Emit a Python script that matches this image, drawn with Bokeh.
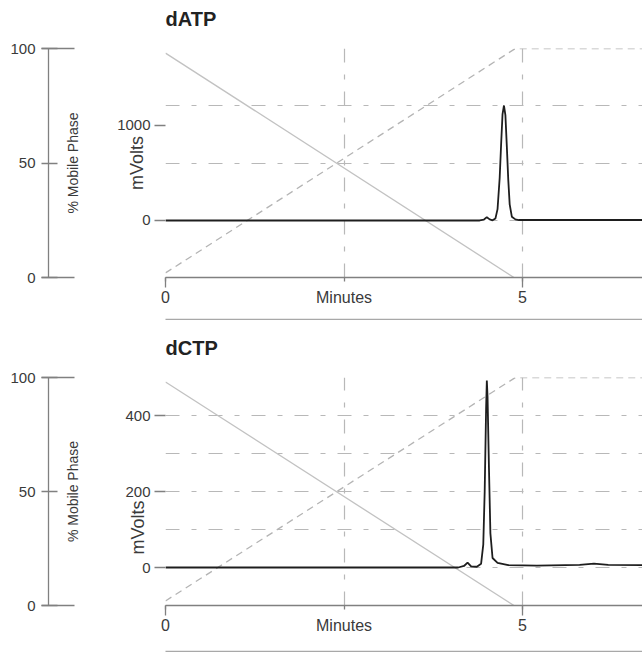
from bokeh.plotting import figure
from bokeh.models import (Range1d, LinearAxis, FixedTicker, Grid, Title,
                          NumeralTickFormatter)
from bokeh.layouts import column
from bokeh.embed import file_html
from bokeh.resources import INLINE

# ---------------- data ----------------
# gradient program (% mobile phase) shared by both runs
grad_time_A = [0.0, 4.88]
grad_pct_A = [98, 0]
grad_time_B = [0.0, 4.9, 10.0]
grad_pct_B = [2, 100, 100]

# dATP chromatogram (minutes, mV)
datp_time = [0.0, 4.40, 4.46, 4.50, 4.54, 4.58, 4.62, 4.65, 4.68, 4.70, 4.72,
             4.74, 4.76, 4.78, 4.80, 4.82, 4.85, 4.90, 4.95, 5.5, 6.0, 7.0]
datp_mv = [0, 0, 10, 35, 12, 2, 20, 120, 450, 800, 1120,
           1210, 1110, 780, 430, 170, 40, 12, 5, 5, 6, 5]

# dCTP chromatogram (minutes, mV)
dctp_time = [0.0, 4.10, 4.18, 4.23, 4.28, 4.36, 4.42, 4.45, 4.47, 4.49, 4.50,
             4.51, 4.53, 4.55, 4.58, 4.65, 4.80, 5.20, 5.80, 6.00, 6.20, 7.00]
dctp_mv = [0, 0, 4, 13, 3, 2, 10, 60, 200, 420, 492,
           450, 260, 90, 25, 12, 6, 5, 7, 10, 7, 6]

x_ticks = [0, 2.5, 5]
x_tick_labels = {0: "0", 2.5: "Minutes", 5: "5"}
pct_ticks = [0, 50, 100]
datp_mv_ticks = [0, 1000]
dctp_mv_ticks = [0, 200, 400]
datp_mv_range = (-600, 1810)
dctp_mv_range = (-100, 500)
datp_grid_pct = [25, 50, 75, 100]
dctp_grid_mv = [0, 100, 200, 300, 400, 500]

FONT = "Liberation Sans"
AXIS_C = "#808080"
TEXT_C = "#3a3a3a"
GRID_C = "#b8b8b8"
X_END = 6.68
EM = "\u2003"


def style_axis(ax, font_size="15px"):
    ax.axis_line_color = AXIS_C
    ax.axis_line_width = 1.3
    ax.major_tick_line_color = AXIS_C
    ax.major_tick_line_width = 1.3
    ax.minor_tick_line_color = AXIS_C
    ax.minor_tick_line_width = 1.3
    ax.major_label_text_font = FONT
    ax.major_label_text_font_size = font_size
    ax.major_label_text_color = TEXT_C
    ax.axis_label_text_font = FONT
    ax.axis_label_text_font_style = "normal"
    ax.axis_label_text_color = TEXT_C


def spacer_axis(size, tick, **kw):
    # an invisible axis whose only job is to take up `size` pixels
    return LinearAxis(ticker=FixedTicker(ticks=[tick]), axis_line_color=None,
                      major_tick_out=size, major_tick_in=0, minor_tick_out=0,
                      minor_tick_in=0, major_label_standoff=0,
                      major_label_overrides={tick: ""},
                      major_label_text_font_size="0px",
                      major_tick_line_color=None, minor_tick_line_color=None,
                      **kw)


def make_panel(title, t, mv, mv_range, mv_ticks, mv_label, grid_ticks,
               grid_on_mv, top_border, bottom_border, height, top_spacer,
               mv_standoff, lab_standoff, left_spacer, bottom_spacer):
    p = figure(width=642, height=height, x_range=Range1d(0, X_END),
               y_range=Range1d(0, 100), x_axis_location=None,
               y_axis_location=None, output_backend="svg",
               toolbar_location=None, min_border_left=165, min_border_right=0,
               min_border_top=top_border, min_border_bottom=bottom_border,
               title=None)
    p.center = [c for c in p.center if not isinstance(c, Grid)]
    p.outline_line_color = None
    p.extra_y_ranges = {"mv": Range1d(*mv_range)}

    # title, lifted by an invisible spacer
    p.add_layout(spacer_axis(top_spacer, 2.5), "above")
    p.add_layout(Title(text=title, text_font=FONT, text_font_size="20px",
                       text_font_style="bold", text_color="#222222",
                       align="left"), "above")

    # grids
    hg = Grid(dimension=1, ticker=FixedTicker(ticks=grid_ticks),
              grid_line_color=GRID_C, grid_line_dash="14 12 5 12",
              grid_line_width=1.2)
    if grid_on_mv:
        hg.y_range_name = "mv"
    p.add_layout(hg)
    vg = Grid(dimension=0, ticker=FixedTicker(ticks=[2.5, 5]),
              grid_line_color=GRID_C, grid_line_dash="14 12 5 12",
              grid_line_width=1.2)
    p.add_layout(vg)
    # mV axis line (at t = 0)
    p.add_layout(Grid(dimension=0, ticker=FixedTicker(ticks=[0]),
                      grid_line_color=AXIS_C, grid_line_width=1.3))

    # gradient lines (% mobile phase)
    p.line(grad_time_A, grad_pct_A, line_color="#c2c2c2", line_width=1.3)
    p.line(grad_time_B, grad_pct_B, line_color="#b4b4b4", line_width=1.3,
           line_dash="7 5")

    # chromatogram
    p.line(t, mv, y_range_name="mv", line_color="#1e1e1e", line_width=1.8)

    # left axes: mV (innermost), label, spacer, % axis (outermost)
    mv_axis = LinearAxis(y_range_name="mv", ticker=FixedTicker(ticks=mv_ticks),
                         axis_label=mv_label, major_tick_out=11, major_tick_in=0,
                         minor_tick_out=0, minor_tick_in=0,
                         major_label_standoff=4, axis_label_standoff=mv_standoff)
    style_axis(mv_axis)
    mv_axis.axis_line_color = None
    mv_axis.axis_label_text_font_size = "18px"
    p.add_layout(mv_axis, "left")

    lab_axis = LinearAxis(ticker=FixedTicker(ticks=[]), axis_label="% Mobile Phase",
                          major_tick_out=0, major_tick_in=0,
                          minor_tick_out=0, minor_tick_in=0,
                          major_label_standoff=0, axis_label_standoff=lab_standoff)
    style_axis(lab_axis)
    lab_axis.axis_line_color = None
    lab_axis.axis_label_text_font_size = "14px"
    p.add_layout(lab_axis, "left")

    p.add_layout(spacer_axis(left_spacer, 50), "left")

    pct_axis = LinearAxis(ticker=FixedTicker(ticks=pct_ticks, minor_ticks=[0, 100]),
                          major_tick_out=7, major_tick_in=9,
                          minor_tick_out=7, minor_tick_in=26,
                          major_label_standoff=6)
    style_axis(pct_axis)
    p.add_layout(pct_axis, "left")

    # bottom axes: time axis, spacer, separator line
    x_axis = LinearAxis(ticker=FixedTicker(ticks=x_ticks, minor_ticks=[0, 5]),
                        major_tick_out=4, major_tick_in=0,
                        minor_tick_out=10, minor_tick_in=0,
                        major_label_standoff=1,
                        formatter=NumeralTickFormatter(format="0"),
                        major_label_overrides=x_tick_labels)
    style_axis(x_axis, "16px")
    p.add_layout(x_axis, "below")
    p.add_layout(spacer_axis(bottom_spacer, 2.5), "below")
    sep = LinearAxis(ticker=FixedTicker(ticks=[]), axis_line_color="#a8a8a8",
                     axis_line_width=1.3, major_tick_out=0, major_tick_in=0,
                     minor_tick_out=0, minor_tick_in=0, major_label_standoff=0)
    p.add_layout(sep, "below")
    return p


p1 = make_panel("dATP", datp_time, datp_mv, datp_mv_range, datp_mv_ticks,
                "mVolts", datp_grid_pct, False, 48, 43, 320, 14,
                -33, 44, 13, 11)
p2 = make_panel("dCTP", dctp_time, dctp_mv, dctp_mv_range, dctp_mv_ticks,
                "mVolts" + EM * 4, dctp_grid_mv, True, 57, 47, 332, 14,
                -26, 45, 13, 15)

layout = column(p1, p2, spacing=0)
open("out.html", "w").write(file_html(layout, INLINE))
